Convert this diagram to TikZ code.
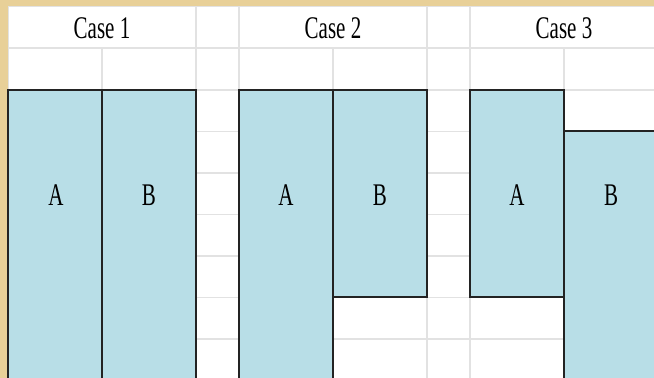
\documentclass[tikz,border=0pt]{standalone}
\usepackage{fontspec}
\setmainfont{Liberation Serif}
\usetikzlibrary{positioning}
\definecolor{sheetTan}{RGB}{232,208,152}
\definecolor{cellBlue}{RGB}{184,222,231}
\definecolor{gridGray}{RGB}{226,226,226}
\definecolor{edgeDark}{RGB}{35,35,35}
\newcommand{\tallText}[1]{\scalebox{1}[1.5]{#1}}
\tikzset{
	gline/.style={draw=gridGray, line width=1.1pt},
	cbox/.style={fill=cellBlue, draw=edgeDark, line width=1.3pt},
	lbl/.style={font=\fontsize{15.75}{18}\selectfont, inner sep=0pt, text=black}
}

\begin{document}
\begin{tikzpicture}[x=0.75pt, y=-0.75pt]
	\useasboundingbox (0,0) rectangle (654,378);
	\clip (0,0) rectangle (654,378);
	\fill[sheetTan] (0,0) rectangle (654,378);
	\fill[white] (8,6) rectangle (660,384);
	% sheet grid
	\draw[gline] (8,6.5) -- (660,6.5);
	\draw[gline] (8.5,6) -- (8.5,384);
	\foreach \yy in {48,90,131.5,173,214.5,256,297.5,339}
		\draw[gline] (8,\yy) -- (660,\yy);
	\foreach \xx in {196,239,427,470}
		\draw[gline] (\xx,6) -- (\xx,384);
	\foreach \xx in {102,333,564}
		\draw[gline] (\xx,48) -- (\xx,384);
	% headers
	\node[lbl] (hdr1) at (102,28.5) {\tallText{Case 1}};
	\node[lbl] (hdr2) at (333,28.5) {\tallText{Case 2}};
	\node[lbl] (hdr3) at (564,28.5) {\tallText{Case 3}};
	% case 1
	\draw[cbox] (8,90) rectangle (102,390);
	\draw[cbox] (102,90) rectangle (196,390);
	\node[lbl] (c1A) at (56,195) {\tallText{A}};
	\node[lbl] (c1B) at (149,195) {\tallText{B}};
	% case 2
	\draw[cbox] (239,90) rectangle (333,390);
	\draw[cbox] (333,90) rectangle (427,297);
	\node[lbl] (c2A) at (286,195) {\tallText{A}};
	\node[lbl] (c2B) at (380,195) {\tallText{B}};
	% case 3
	\draw[cbox] (470,90) rectangle (564,297);
	\draw[cbox] (564,131) rectangle (670,390);
	\node[lbl] (c3A) at (517,195) {\tallText{A}};
	\node[lbl] (c3B) at (611,195) {\tallText{B}};
\end{tikzpicture}
\end{document}
